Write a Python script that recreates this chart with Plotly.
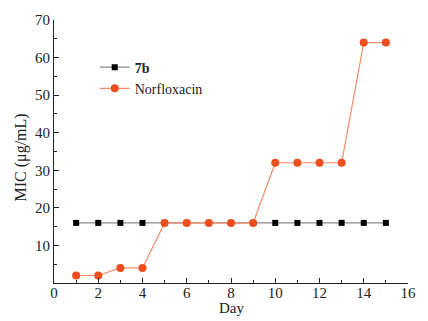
import plotly.graph_objects as go

days = list(range(1, 16))
mic_7b = [16] * 15
mic_norfloxacin = [2, 2, 4, 4, 16, 16, 16, 16, 16, 32, 32, 32, 32, 64, 64]
x_ticks = [0, 2, 4, 6, 8, 10, 12, 14, 16]
y_ticks = [10, 20, 30, 40, 50, 60, 70]

FONT = "Liberation Serif"
ORANGE = "#EE4E1E"

fig = go.Figure()
fig.add_trace(go.Scatter(
    x=days, y=mic_7b, mode="lines+markers", name="<b>7b</b>",
    line=dict(color="#8a8a8a", width=1.2),
    marker=dict(symbol="square", size=6, color="#000000"),
))
fig.add_trace(go.Scatter(
    x=days, y=mic_norfloxacin, mode="lines+markers", name="Norfloxacin",
    line=dict(color="#F58A68", width=1.2),
    marker=dict(symbol="circle", size=8, color=ORANGE),
))

fig.update_layout(
    width=428, height=321,
    margin=dict(l=54, r=20, t=20, b=38),
    paper_bgcolor="white", plot_bgcolor="white",
    font=dict(family=FONT, size=15, color="#222222"),
    showlegend=True,
    legend=dict(x=0.115, y=0.88, xanchor="left", yanchor="top",
                bgcolor="rgba(0,0,0,0)", font=dict(family=FONT, size=14),
                itemwidth=30, tracegroupgap=0),
    xaxis=dict(
        range=[0, 16], tickvals=x_ticks, showline=True, linecolor="#222222",
        linewidth=1.2, ticks="inside", ticklen=5, tickcolor="#222222",
        minor=dict(ticks="inside", ticklen=3, dtick=1, tick0=0, tickcolor="#222222"),
        showgrid=False, zeroline=False, mirror=False, ticklabelstandoff=-4,
        automargin=False,
    ),
    yaxis=dict(
        range=[0, 70], tickvals=y_ticks, showline=True, linecolor="#222222",
        linewidth=1.2, ticks="inside", ticklen=5, tickcolor="#222222",
        minor=dict(ticks="inside", ticklen=3, dtick=5, tick0=0, tickcolor="#222222"),
        showgrid=False, zeroline=False, mirror=False, automargin=False,
    ),
)
fig.add_annotation(text="Day", xref="paper", yref="paper", x=0.5, y=0,
                   yanchor="middle", yshift=-25, showarrow=False,
                   font=dict(family=FONT, size=15, color="#222222"))
fig.add_annotation(text="MIC (μg/mL)", xref="paper", yref="paper", x=0, y=0.5,
                   xanchor="center", yanchor="middle", xshift=-34, yshift=-6,
                   textangle=-90, showarrow=False,
                   font=dict(family=FONT, size=16, color="#222222"))
fig.write_html("out.html")
